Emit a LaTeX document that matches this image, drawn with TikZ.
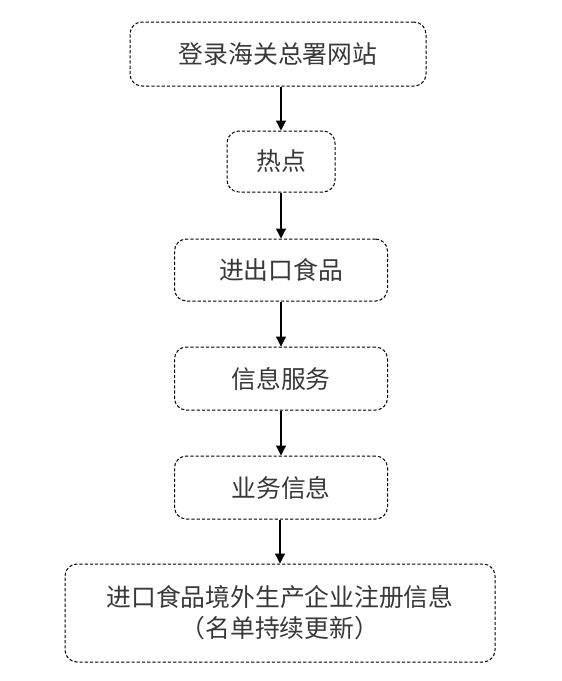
\documentclass[tikz,border=0pt]{standalone}
\usepackage{fontspec}
\newfontfamily\cjk{Noto Sans CJK SC}
\usetikzlibrary{arrows.meta}

\begin{document}
\begin{tikzpicture}
[x=0.5pt,y=-0.5pt,%
  every node/.style={shape=rectangle,rounded corners=6pt,draw,line width=0.5pt,
    dash pattern=on 1.6pt off 1pt,inner sep=0pt,align=center,
    text=black!78,font=\cjk\fontsize{12.4}{15.5}\selectfont}]
\useasboundingbox (0,0) rectangle (562,681);
\node[minimum width=148pt,minimum height=32pt] (login) at (278,54) {登录海关总署网站};
%%
\node[minimum width=54pt,minimum height=30.5pt] (hot) at (281,161.5) {热点};
%%
\node[minimum width=106.5pt,minimum height=31pt] (food) at (281,270) {进出口食品};
%%
\node[minimum width=106.5pt,minimum height=31.5pt] (service) at (281,378.5) {信息服务};
%%
\node[minimum width=106.5pt,minimum height=31.5pt] (business) at (281,487.5) {业务信息};
%%
\node[minimum width=215pt,minimum height=49pt] (register) at (280,613)
  {进口食品境外生产企业注册信息\\（名单持续更新）};
\path
\foreach \startNode/\endNode in {login/hot, hot/food, food/service, service/business, business/register}
{
  (\startNode.south -| \endNode.north) edge[-{Triangle[width=5pt,length=5pt]},line width=0.6pt] (\endNode.north)
};
\end{tikzpicture}
\end{document}
